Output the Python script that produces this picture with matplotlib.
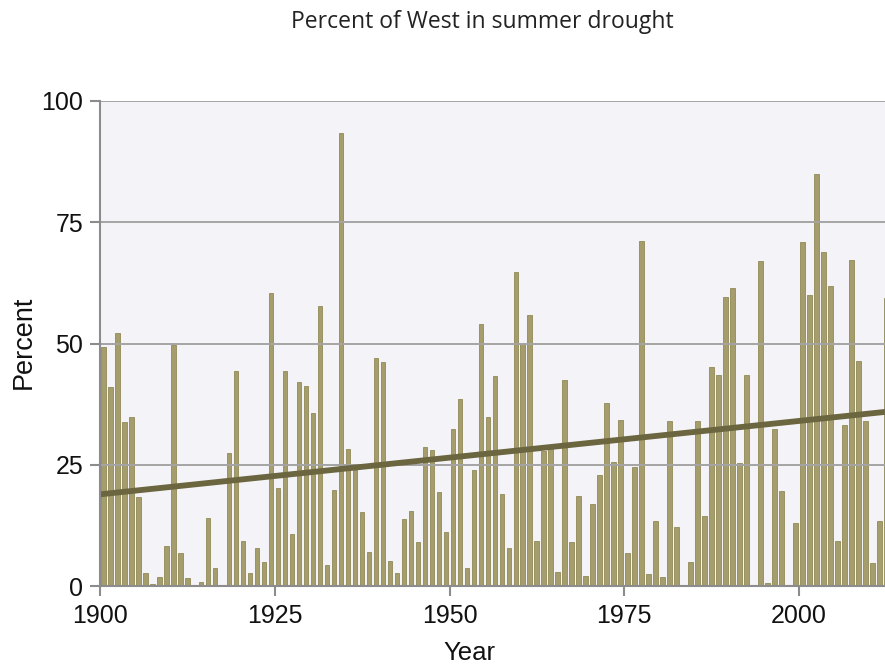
import matplotlib
matplotlib.use("Agg")
import matplotlib.pyplot as plt
import numpy as np

# percent of West in summer drought, one value per year from 1900
years = np.arange(1900, 2013)
drought_pct = [
    49.3, 41.0, 52.1, 33.8, 34.9, 18.3, 2.7, 0.4, 1.9, 8.2,      # 1900s
    49.7, 6.8, 1.6, 0.0, 0.9, 14.1, 3.8, 0.0, 27.4, 44.4,        # 1910s
    9.2, 2.6, 7.8, 4.9, 60.4, 20.3, 44.4, 10.7, 42.1, 41.3,      # 1920s
    35.7, 57.8, 4.3, 19.8, 93.3, 28.2, 23.9, 15.2, 7.1, 47.0,    # 1930s
    46.1, 5.2, 2.6, 13.8, 15.4, 9.0, 28.6, 28.0, 19.4, 11.2,     # 1940s
    32.3, 38.6, 3.7, 24.0, 54.1, 34.9, 43.3, 18.9, 7.9, 64.8,    # 1950s
    49.9, 55.8, 9.2, 27.9, 29.1, 2.8, 42.4, 9.0, 18.5, 2.1,      # 1960s
    16.9, 22.8, 37.8, 25.6, 34.2, 6.8, 24.6, 71.2, 2.4, 13.4,    # 1970s
    1.9, 34.0, 12.1, 0.2, 5.0, 34.1, 14.4, 45.1, 43.5, 59.6,     # 1980s
    61.4, 25.4, 43.5, 0.0, 67.0, 0.7, 32.4, 19.6, 0.3, 12.9,     # 1990s
    71.0, 60.1, 85.0, 68.9, 61.8, 9.2, 33.2, 67.3, 46.3, 34.1,   # 2000s
    4.8, 13.4, 59.4,                                             # 2010s
]
trend_years = [1900, 2013]
trend_values = [18.9, 36.0]

x_ticks = [1900, 1925, 1950, 1975, 2000]
y_ticks = [0, 25, 50, 75, 100]

plt.rcParams['font.family'] = ['Liberation Sans', 'DejaVu Sans']

fig = plt.figure(figsize=(8.85, 6.66), dpi=100)
ax = fig.add_axes([100 / 885, 1 - 586 / 666, 785 / 885, 485 / 666])
ax.set_facecolor('#f4f4f8')

ax.bar(years + 0.48, drought_pct, width=0.65, color='#a69d6c',
       edgecolor='#918957', linewidth=0.6, zorder=2)

for yv in y_ticks[1:]:
    ax.axhline(yv, color='#a4a4a4', linewidth=1.4, zorder=3)

ax.plot(trend_years, trend_values, color='#6c6640', linewidth=4.2,
        solid_capstyle='butt', zorder=4)

ax.set_xlim(1900, 2012.3)
ax.set_ylim(0, 100)
ax.set_xticks(x_ticks)
ax.set_yticks(y_ticks)

for side in ['top', 'right']:
    ax.spines[side].set_visible(False)
for side in ['left', 'bottom']:
    ax.spines[side].set_color('#8c8c8c')
    ax.spines[side].set_linewidth(1.5)
    ax.spines[side].set_zorder(5)

ax.tick_params(axis='both', colors='#8c8c8c', length=7, width=1.5,
               labelsize=18, labelcolor='#111111')
ax.tick_params(axis='y', pad=5)
ax.tick_params(axis='x', pad=6)

ax.set_xlabel('Year', fontsize=18.5, color='#111111')
ax.xaxis.set_label_coords((469 - 100) / 785, -(653 - 586) / 485)
ax.xaxis.label.set_va('center')
ax.set_ylabel('Percent', fontsize=19.5, color='#111111')
ax.yaxis.set_label_coords(-(100 - 24) / 785, (586 - 342) / 485)
ax.yaxis.label.set_va('center')

fig.text(482 / 885, 1 - 22 / 666, 'Percent of West in summer drought',
         ha='center', va='center', fontsize=16.5, color='#222222',
         family=['Open Sans', 'DejaVu Sans'])

fig.savefig('out.png', dpi=100)
